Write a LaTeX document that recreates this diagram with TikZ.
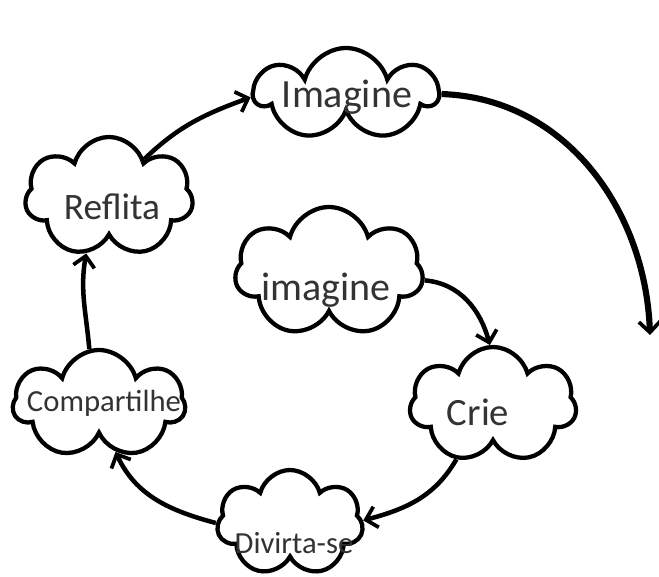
\documentclass[tikz,border=0pt]{standalone}
\usepackage{fontspec}
\setmainfont{Carlito}
\usetikzlibrary{shapes.symbols,arrows.meta}

\tikzset{every picture/.style={line width=0.75pt}}
\tikzset{
  puff/.style={cloud, cloud puffs=7, cloud ignores aspect, draw, line width=3.2pt, fill=white, inner sep=0pt},
  bigword/.style={font=\fontsize{30}{30}\selectfont, text=black!80, inner sep=0pt},
  smallword/.style={font=\fontsize{23}{23}\selectfont, text=black!80, inner sep=0pt},
  flow/.style={line width=3.4pt, -{Straight Barb[length=8pt,width=16pt,line width=2.8pt]}},
}

\begin{document}
\begin{tikzpicture}[x=0.75pt,y=0.75pt,yscale=-1,xscale=1]
\useasboundingbox (0,0) rectangle (659,576);

%Clouds
\node [puff, minimum width=136.5pt, minimum height=69pt] (imagine) at (346,94) {};
\node [puff, minimum width=126pt, minimum height=90pt] (reflita) at (109,197) {};
\node [puff, minimum width=141pt, minimum height=97.5pt] (idea) at (329,272) {};
\node [puff, minimum width=125pt, minimum height=87pt] (crie) at (493,405) {};
\node [puff, minimum width=129pt, minimum height=81pt] (compart) at (99,404) {};
\node [puff, minimum width=109.5pt, minimum height=79.5pt] (divirta) at (290,523) {};

% Text Node
\node [bigword] (imagineTxt) at (347,97) {Imagine};
% Text Node
\node [bigword, font=\fontsize{28}{28}\selectfont] (reflitaTxt) at (112,207) {Reflita};
% Text Node
\node [bigword] (ideaTxt) at (326,290) {imagine};
% Text Node
\node [bigword, font=\fontsize{29}{29}\selectfont] (crieTxt) at (478,412) {Crie};
% Text Node
\node [smallword] (compartTxt) at (104,403) {Compartilhe};
% Text Node
\node [smallword] (divirtaTxt) at (294,543) {Divirta-se};

\coordinate (arcEnd) at (650,335);

%Curve Lines
\draw [flow] (reflita.47) to[out=-44, in=160] (imagine.182);
%Curve Lines
\draw [flow, line width=4.6pt] (imagine.0) to[out=2, in=-92] (arcEnd);
%Curve Lines
\draw [flow] (idea.-5) to[out=5, in=-105] (crie.93);
%Curve Lines
\draw [flow] (crie.236) to[out=120, in=-15] (divirta.2);
%Curve Lines
\draw [flow] (divirta.180) to[out=-165, in=65] (compart.289);
%Straight Lines
\draw [flow] (compart.100) to[out=-95, in=100] (reflita.248);

\end{tikzpicture}
\end{document}
